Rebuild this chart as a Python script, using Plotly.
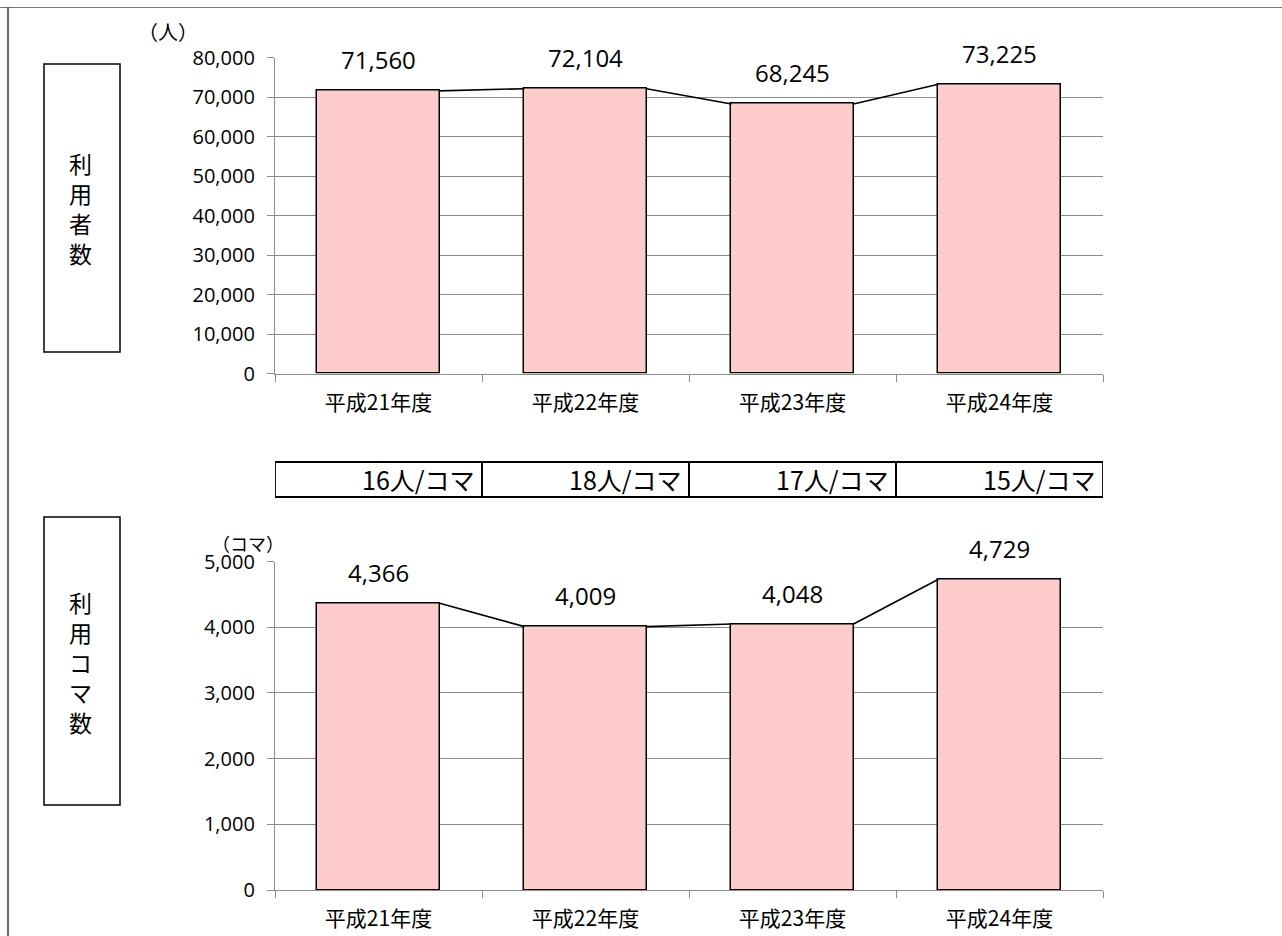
import plotly.graph_objects as go

# --- data -------------------------------------------------------------
years = ["平成21年度", "平成22年度", "平成23年度", "平成24年度"]
users = [71560, 72104, 68245, 73225]          # 利用者数（人）
slots = [4366, 4009, 4048, 4729]              # 利用コマ数（コマ）
per_slot = [16, 18, 17, 15]                   # 人/コマ

users_ticks = list(range(0, 80001, 10000))
slots_ticks = list(range(0, 5001, 1000))

# --- layout constants ---------------------------------------------------
W, H = 1282, 936
BAR_W = 0.59
PINK = "#FFCCCC"
GRID = "#8C8C8C"
NUM_FONT = "Open Sans, Noto Sans CJK JP, sans-serif"
JP_FONT = "Noto Sans CJK JP, sans-serif"


def py(pix):
    """pixel row -> paper y"""
    return 1 - pix / H


x_dom = [275 / W, 1103 / W]
xs = list(range(len(years)))

fig = go.Figure()


def add_panel(values, xa, ya):
    fig.add_trace(go.Bar(
        x=xs, y=values, width=BAR_W, xaxis=xa, yaxis=ya,
        marker=dict(color=PINK, line=dict(color="black", width=1.5)),
        showlegend=False, hoverinfo="skip",
    ))
    # series lines joining neighbouring bar tops
    for i in range(len(values) - 1):
        fig.add_trace(go.Scatter(
            x=[xs[i] + BAR_W / 2, xs[i + 1] - BAR_W / 2],
            y=[values[i], values[i + 1]],
            mode="lines", line=dict(color="black", width=1.6),
            xaxis=xa, yaxis=ya, showlegend=False, hoverinfo="skip",
        ))
    for i, v in enumerate(values):
        fig.add_annotation(
            x=xs[i], y=v, xref=xa, yref=ya, text=f"{v:,}",
            showarrow=False, xanchor="center", yanchor="middle", yshift=31,
            font=dict(family=NUM_FONT, size=24, color="#000"),
            bgcolor="white", borderpad=7,
        )


add_panel(users, "x", "y")
add_panel(slots, "x2", "y2")

xaxis_common = dict(
    domain=x_dom, range=[-0.5, 3.5], tickvals=xs, ticktext=years,
    ticks="", showgrid=False, zeroline=False, automargin=False,
    showline=True, linecolor=GRID, linewidth=1.3,
    tickfont=dict(family=JP_FONT, size=21, color="#000"),
    ticklabelstandoff=10,
    minor=dict(tickvals=[-0.5, 0.5, 1.5, 2.5, 3.5], ticks="outside",
               ticklen=7, tickcolor=GRID, tickwidth=1.3, showgrid=False),
    fixedrange=True,
)
yaxis_common = dict(
    showgrid=True, gridcolor=GRID, gridwidth=1.3, zeroline=False,
    showline=True, linecolor=GRID, linewidth=1.3, automargin=False,
    ticks="outside", ticklen=7, tickcolor=GRID, tickwidth=1.3,
    tickformat=",d", separatethousands=True,
    tickfont=dict(family=NUM_FONT, size=20, color="#000"),
    ticklabelstandoff=8, fixedrange=True,
)

fig.update_layout(
    width=W, height=H, margin=dict(l=0, r=0, t=0, b=0, autoexpand=False),
    paper_bgcolor="white", plot_bgcolor="white", bargap=0,
    xaxis=dict(xaxis_common, anchor="y"),
    yaxis=dict(yaxis_common, domain=[py(373.5), py(57.5)],
               range=[0, 80000], tickvals=users_ticks),
    xaxis2=dict(xaxis_common, anchor="y2"),
    yaxis2=dict(yaxis_common, domain=[py(890), py(561.5)],
                range=[0, 5000], tickvals=slots_ticks),
)


def paper_text(px, pyx, text, size, **kw):
    fig.add_annotation(x=px / W, y=py(pyx), xref="paper", yref="paper",
                       text=text, showarrow=False,
                       xanchor=kw.pop("xanchor", "center"),
                       yanchor=kw.pop("yanchor", "middle"),
                       font=dict(family=JP_FONT, size=size, color="#000"), **kw)


# units
paper_text(168, 32, "（人）", 20)
paper_text(248, 543, "（コマ）", 18)

# side caption boxes
for (y0, y1, label, yc) in [(64, 352, "利用者数", 208), (517, 805, "利用コマ数", 662)]:
    fig.add_shape(type="rect", xref="paper", yref="paper",
                  x0=44 / W, x1=120 / W, y0=py(y1), y1=py(y0),
                  line=dict(color="black", width=1.5), fillcolor="white")
    paper_text(80, yc, "<br>".join(label), 23)

# persons-per-slot strip, one cell per year
for i, n in enumerate(per_slot):
    fig.add_shape(type="rect", xref="x", yref="paper",
                  x0=xs[i] - 0.5, x1=xs[i] + 0.5, y0=py(497), y1=py(462),
                  line=dict(color="black", width=1.8))
    fig.add_annotation(x=xs[i] + 0.5, y=py(479.5), xref="x", yref="paper",
                       text=f"{n}人/コマ", showarrow=False,
                       xanchor="right", yanchor="middle", xshift=-5,
                       font=dict(family=JP_FONT, size=25, color="#000"))

# page frame
fig.add_shape(type="line", xref="paper", yref="paper",
              x0=0, x1=1, y0=py(7.5), y1=py(7.5),
              line=dict(color="#777", width=1))
fig.add_shape(type="line", xref="paper", yref="paper",
              x0=8 / W, x1=8 / W, y0=0, y1=py(7.5),
              line=dict(color="black", width=1.2))

fig.write_html("out.html")
